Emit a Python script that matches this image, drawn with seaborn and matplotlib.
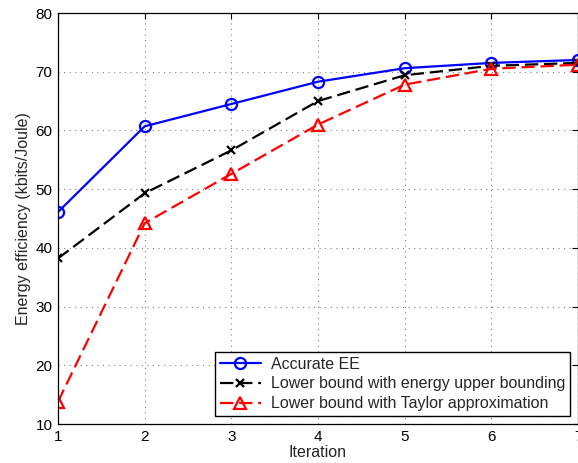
import matplotlib
matplotlib.use("Agg")
import matplotlib.pyplot as plt
import seaborn as sns
import pandas as pd

iterations = [1, 2, 3, 4, 5, 6, 7]
accurate_ee = [46.1, 60.7, 64.5, 68.3, 70.6, 71.5, 72.0]
energy_upper = [38.2, 49.3, 56.6, 65.0, 69.4, 71.0, 71.5]
taylor_approx = [13.8, 44.2, 52.6, 61.0, 67.8, 70.5, 71.2]

labels = ['Accurate EE', 'Lower bound with energy upper bounding',
          'Lower bound with Taylor approximation']

sns.set_style('white')
plt.rcParams['font.family'] = ['Liberation Sans', 'DejaVu Sans']

fig = plt.figure(figsize=(5.78, 4.63), dpi=100)
ax = fig.add_axes([58 / 578, 39 / 463, 520 / 578, 411 / 463])

df = pd.DataFrame({'it': iterations, 'a': accurate_ee, 'b': energy_upper, 'c': taylor_approx})

sns.lineplot(data=df, x='it', y='a', ax=ax, color='blue', linewidth=1.6,
             marker='o', markersize=8, markerfacecolor='none', markeredgecolor='blue',
             markeredgewidth=1.6, label=labels[0])
sns.lineplot(data=df, x='it', y='b', ax=ax, color='black', linewidth=1.6,
             linestyle=(0, (6, 2.6)), marker='x', markersize=5.5, markeredgewidth=1.6,
             markeredgecolor='black', label=labels[1])
sns.lineplot(data=df, x='it', y='c', ax=ax, color='red', linewidth=1.6,
             linestyle=(0, (6, 2.6)), marker='^', markersize=8, markerfacecolor='none',
             markeredgecolor='red', markeredgewidth=1.6, label=labels[2])

ax.set_xlim(1, 7)
ax.set_ylim(10, 80)
ax.set_xticks(iterations)
ax.set_yticks(range(10, 81, 10))
ax.set_xlabel('Iteration', fontsize=11.5, labelpad=1)
ax.set_ylabel('Energy efficiency (kbits/Joule)', fontsize=11.5, labelpad=3)
ax.tick_params(direction='in', top=True, right=True, length=4, width=0.8,
               labelsize=11, colors='black', pad=4)
ax.grid(True, linestyle=(0, (1, 4)), color='gray', linewidth=0.8)
for s in ax.spines.values():
    s.set_color('black')
    s.set_linewidth(0.9)

leg = ax.legend(loc='lower right', fontsize=11.5, frameon=True, fancybox=False,
                edgecolor='black', borderpad=0.3, labelspacing=0.3,
                handlelength=2.6, handletextpad=0.6, borderaxespad=0.5)
leg.get_frame().set_linewidth(1.0)
leg.get_frame().set_alpha(1)

fig.savefig('out.png', dpi=100)
